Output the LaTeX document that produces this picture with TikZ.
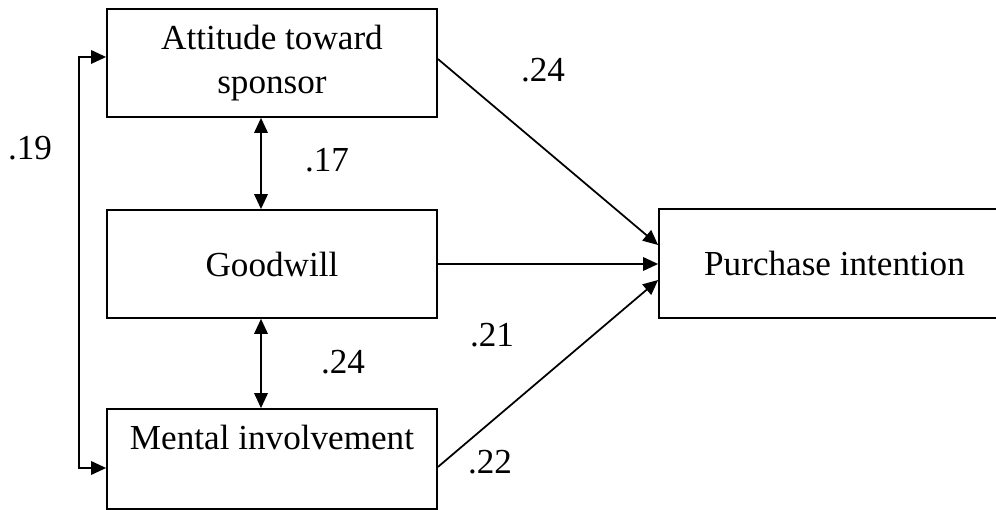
\documentclass[tikz,border=0pt]{standalone}
\usepackage{fontspec}
\setmainfont{Liberation Serif}
\usetikzlibrary{arrows.meta}

\begin{document}
\begin{tikzpicture}[line width=1pt, >={Triangle[length=0.3cm,width=0.27cm]},
  factor/.style={draw, rectangle, align=center, minimum width=6.6cm, minimum height=2.16cm, inner sep=0pt, font=\fontsize{20}{25}\selectfont},
  coef/.style={font=\fontsize{20}{25}\selectfont}]
\useasboundingbox (0,0) rectangle (19.92,10.2);
\node[factor] (att) at (5.44, 8.94) {Attitude toward\\sponsor};
\node[factor] (good) at (5.44, 4.92) {Goodwill};
\node[factor, minimum height=2cm] (ment) at (5.44, 1.02) {Mental involvement\\\mbox{}};
\node[factor, minimum width=7.02cm, minimum height=2.18cm] (buy) at (16.69, 4.93) {Purchase intention};

\draw[<->] ([xshift=-0.22cm]att.south) -- ([xshift=-0.22cm]good.north);
\draw[<->] ([xshift=-0.22cm]good.south) -- ([xshift=-0.22cm]ment.north);
\draw[<->] ([yshift=0.12cm]att.west) -- ++(-0.54,0) |- ([yshift=-0.18cm]ment.west);

\draw[->] ([yshift=0.08cm]att.east) -- ([yshift=0.37cm]buy.west);
\draw[->] (good.east) -- (good.east -| buy.west);
\draw[->] ([yshift=-0.16cm]ment.east) -- ([yshift=-0.33cm]buy.west);

\node[coef] (c19) at (0.6, 7.24) {.19};
\node[coef] (c17) at (6.54, 7.0) {.17};
\node[coef] (c24b) at (6.86, 2.96) {.24};
\node[coef] (c24a) at (10.86, 8.8) {.24};
\node[coef] (c21) at (9.84, 3.5) {.21};
\node[coef] (c22) at (9.8, 0.96) {.22};
\end{tikzpicture}
\end{document}
